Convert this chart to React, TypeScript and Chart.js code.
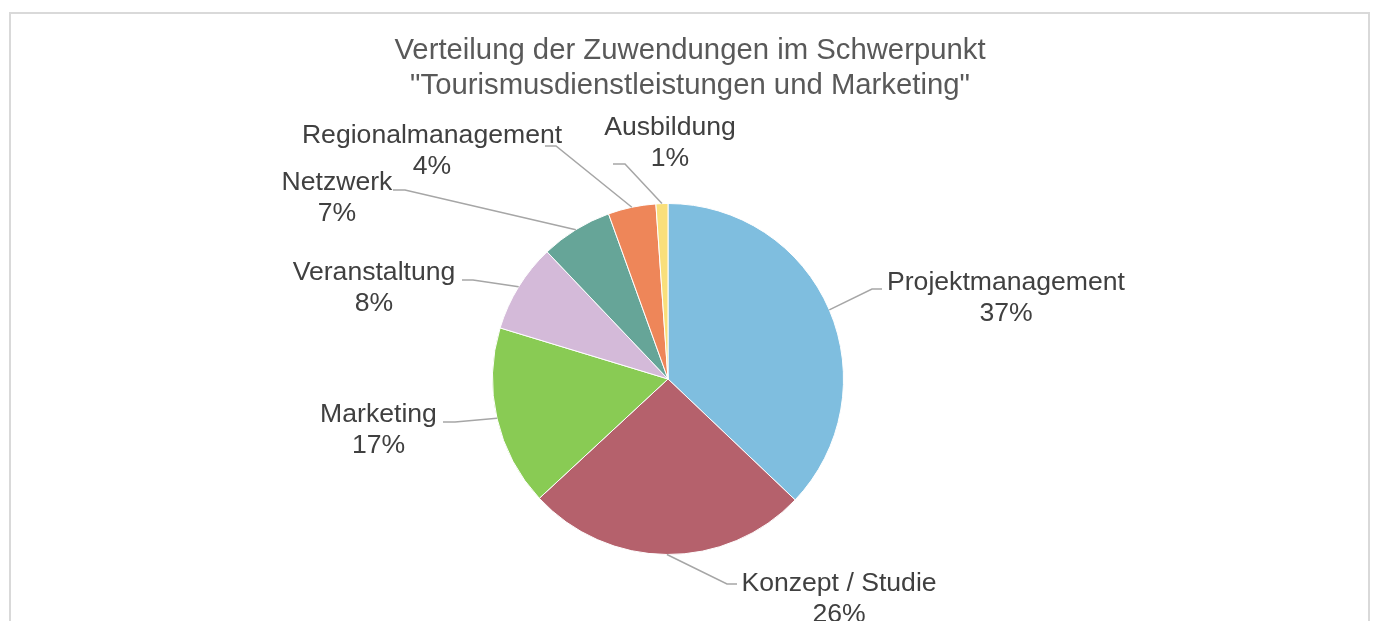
import React, { useEffect, useRef } from "react";
import { Chart, registerables } from "chart.js";

Chart.register(...registerables);

const categories = [
  "Projektmanagement",
  "Konzept / Studie",
  "Marketing",
  "Veranstaltung",
  "Netzwerk",
  "Regionalmanagement",
  "Ausbildung",
];
const shares = [37.1, 26.0, 16.6, 8.2, 6.6, 4.4, 1.1];
const sliceColors = ["#7FBEDF", "#B5616C", "#89CB54", "#D4BAD9", "#66A598", "#EE8659", "#F9DF7B"];
const titleLines = ["Verteilung der Zuwendungen im Schwerpunkt", "\"Tourismusdienstleistungen und Marketing\""];

// label placement relative to the pie centre (px): text centre of first line, leader elbow and end
const labelLayout = [
  { tx: 338, ty: -96, ex: 204, ey: -90, hx: 214 },
  { tx: 171, ty: 205, ex: 59, ey: 205, hx: 69 },
  { tx: -289.5, ty: 36, ex: -213, ey: 43, hx: -225 },
  { tx: -294, ty: -106, ex: -195, ey: -99, hx: -206 },
  { tx: -331, ty: -196, ex: -263, ey: -189, hx: -275 },
  { tx: -236, ty: -243, ex: -112, ey: -233, hx: -123 },
  { tx: 2, ty: -251, ex: -43, ey: -215, hx: -55 },
];

const W = 1376;
const H = 621;
const FONT = '"Liberation Sans", Arial, Helvetica, sans-serif';

const decorPlugin = {
  id: "decor",
  beforeDraw(chart: any) {
    const ctx = chart.ctx;
    ctx.save();
    ctx.fillStyle = "#FFFFFF";
    ctx.fillRect(0, 0, W, H);
    ctx.strokeStyle = "#D9D9D9";
    ctx.lineWidth = 2;
    ctx.strokeRect(10, 13, 1359, 640);
    ctx.fillStyle = "#595959";
    ctx.font = `29.3px ${FONT}`;
    ctx.textAlign = "center";
    ctx.textBaseline = "middle";
    ctx.fillText(titleLines[0], 690, 51);
    ctx.fillText(titleLines[1], 690, 86);
    ctx.restore();
  },
  afterDraw(chart: any) {
    const ctx = chart.ctx;
    const meta = chart.getDatasetMeta(0);
    const data = chart.data.datasets[0].data as number[];
    const total = data.reduce((a, b) => a + b, 0);
    ctx.save();
    meta.data.forEach((arc: any, i: number) => {
      const p = arc.getProps(["x", "y", "startAngle", "endAngle", "outerRadius"], true);
      const mid = (p.startAngle + p.endAngle) / 2;
      const ax = p.x + Math.cos(mid) * p.outerRadius;
      const ay = p.y + Math.sin(mid) * p.outerRadius;
      const L = labelLayout[i];
      ctx.strokeStyle = "#A6A6A6";
      ctx.lineWidth = 1.5;
      ctx.beginPath();
      ctx.moveTo(ax, ay);
      ctx.lineTo(p.x + L.ex, p.y + L.ey);
      ctx.lineTo(p.x + L.hx, p.y + L.ey);
      ctx.stroke();
      ctx.fillStyle = "#404040";
      ctx.font = `26.6px ${FONT}`;
      ctx.textAlign = "center";
      ctx.textBaseline = "middle";
      const pct = Math.round((data[i] / total) * 100) + "%";
      ctx.fillText(chart.data.labels[i], p.x + L.tx, p.y + L.ty);
      ctx.fillText(pct, p.x + L.tx, p.y + L.ty + 31);
    });
    ctx.restore();
  },
};

export default function App() {
  const ref = useRef<HTMLCanvasElement>(null);
  useEffect(() => {
    if (!ref.current) return;
    const chart = new Chart(ref.current, {
      type: "pie",
      data: {
        labels: categories,
        datasets: [
          {
            data: shares,
            backgroundColor: sliceColors,
            borderColor: "#FFFFFF",
            borderWidth: 1,
          },
        ],
      },
      options: {
        responsive: false,
        animation: false,
        devicePixelRatio: 1,
        layout: { padding: { left: 492, right: 532, top: 203, bottom: 66 } },
        plugins: {
          legend: { display: false },
          title: { display: false },
          tooltip: { enabled: false },
        },
      },
      plugins: [decorPlugin],
    });
    return () => chart.destroy();
  }, []);
  return (
    <div style={{ position: "absolute", left: 0, top: 0, width: W, height: H, overflow: "hidden" }}>
      <canvas ref={ref} width={W} height={H} style={{ display: "block", width: W, height: H }} />
    </div>
  );
}
